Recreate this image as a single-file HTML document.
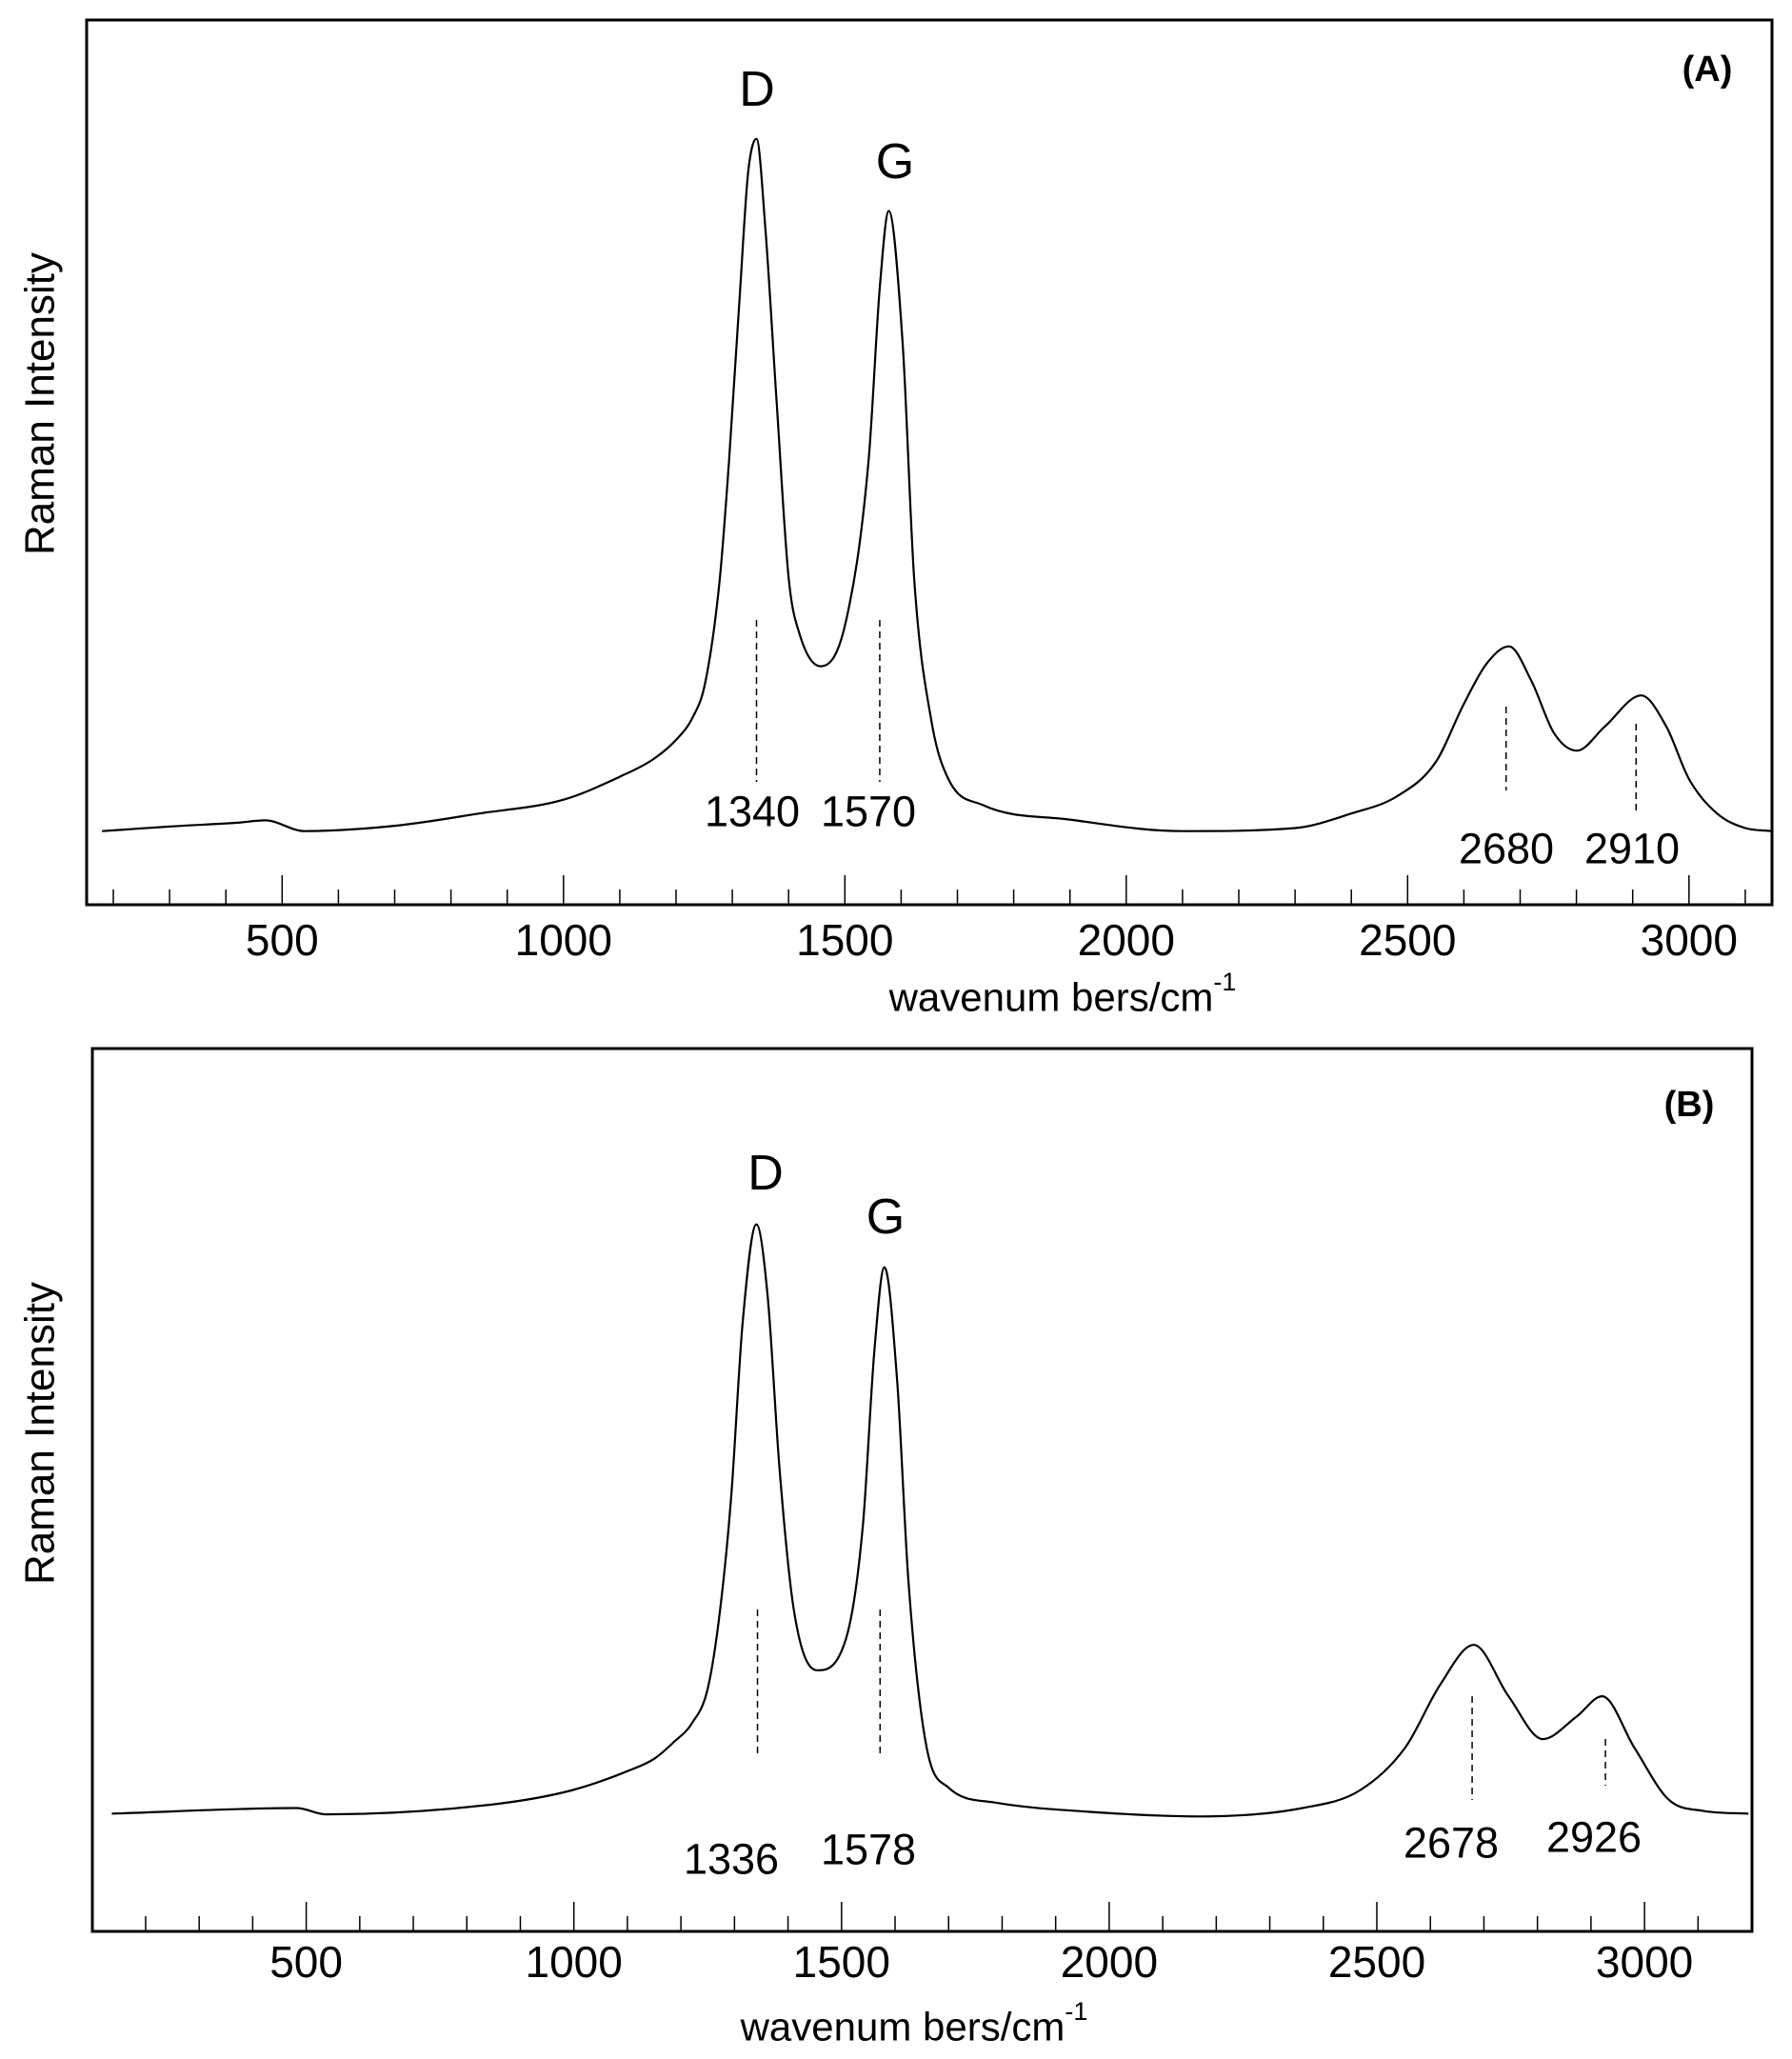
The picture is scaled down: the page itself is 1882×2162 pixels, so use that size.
<!DOCTYPE html>
<html><head><meta charset="utf-8"><style>
html,body{margin:0;padding:0;background:#fff}
svg{display:block}
text{font-family:"Liberation Sans",Arial,sans-serif;fill:#000}
</style></head><body>
<svg id="chart" width="1882" height="2162" viewBox="0 0 1882 2162" xmlns="http://www.w3.org/2000/svg"></svg>
<script>
// ---- Panel A data ----
const wnA = [180,300,420,470,540,700,850,1000,1100,1160,1200,1230,1252,1278,1294,1314,1328,1343,1359,1379,1400,1420,1457,1501,1542,1562,1578,1603,1623,1654,1684,1745,1900,2100,2300,2400,2480,2550,2600,2640,2680,2720,2760,2801,2850,2915,2960,3000,3050,3100,3147];
const intA = [9.6,10.2,10.7,11.0,9.6,10.3,11.9,13.7,16.7,19.0,21.5,24.5,29.0,42.7,57.8,80.4,95.4,99.9,87.9,65.3,42.7,35.2,31.1,36.7,57.8,80.4,90.5,72.8,42.7,23.9,16.4,13.0,11.1,9.6,10.0,11.9,14.1,18.6,26.2,31.4,33.7,29.2,22.4,20.1,23.2,27.3,23.2,16.4,11.9,10.0,9.6];
const peakWnA = [1343,1562,2675,2906];
const peakLabelsA = ["1340","1570","2680","2910"];
// ---- Panel B data ----
const wnB = [137,483,536,857,995,1102,1150,1187,1220,1250,1273,1294,1315,1341,1362,1384,1411,1454,1508,1540,1561,1580,1604,1625,1657,1700,1785,1956,2169,2361,2468,2553,2618,2681,2746,2810,2873,2921,2981,3045,3109,3194];
const intB = [16.2,17.0,16.1,17.6,19.5,22.3,24.0,26.4,29.0,34.0,45.1,61.4,85.8,100,89.8,65.4,45.1,36.6,41.0,57.3,81.7,93.9,77.6,49.2,26.4,19.9,17.8,16.5,15.8,17.0,19.5,25.6,34.5,40.2,32.9,26.8,30.0,32.9,25.6,18.2,16.6,16.2];
const peakWnB = [1343,1572,2678,2927];
const peakLabelsB = ["1336","1578","2678","2926"];
// ---- tick labels ----
const majorTicks = [500,1000,1500,2000,2500,3000];
const minorTicks = [200,300,400,600,700,800,900,1100,1200,1300,1400,1600,1700,1800,1900,2100,2200,2300,2400,2600,2700,2800,2900,3100];

const NS="http://www.w3.org/2000/svg";
const svg=document.getElementById('chart');
function mk(tag,attrs,parent){const e=document.createElementNS(NS,tag);for(const k in attrs)e.setAttribute(k,attrs[k]);(parent||svg).appendChild(e);return e;}

function monotonePath(xs,ys){
  const n=xs.length;const d=[],m=[];
  for(let i=0;i<n-1;i++)d.push((ys[i+1]-ys[i])/(xs[i+1]-xs[i]));
  m[0]=d[0];m[n-1]=d[n-2];
  for(let i=1;i<n-1;i++){m[i]=(d[i-1]*d[i]<=0)?0:(d[i-1]+d[i])/2;}
  for(let i=0;i<n-1;i++){if(d[i]===0){m[i]=0;m[i+1]=0;continue;}const a=m[i]/d[i],b=m[i+1]/d[i];const s=a*a+b*b;if(s>9){const t=3/Math.sqrt(s);m[i]=t*a*d[i];m[i+1]=t*b*d[i];}}
  let p="M"+xs[0].toFixed(1)+","+ys[0].toFixed(1);
  for(let i=0;i<n-1;i++){const h=(xs[i+1]-xs[i])/3;
    p+=" C"+(xs[i]+h).toFixed(1)+","+(ys[i]+m[i]*h).toFixed(1)+" "+(xs[i+1]-h).toFixed(1)+","+(ys[i+1]-m[i+1]*h).toFixed(1)+" "+xs[i+1].toFixed(1)+","+ys[i+1].toFixed(1);}
  return p;
}

function panel(cfg){
  const g=mk('g',{});
  
  
  const X=v=>cfg.x0+cfg.k*v;
  const Y=v=>cfg.bottom-(cfg.bottom-cfg.top)*(v-cfg.ymin)/(cfg.ymax-cfg.ymin);
  const frame=mk('rect',{x:cfg.left,y:cfg.top,width:cfg.right-cfg.left,height:cfg.bottom-cfg.top,fill:'none',stroke:'#000','stroke-width':3},g);
  
  
  majorTicks.forEach(t=>{
    const l=mk('line',{x1:X(t),x2:X(t),y1:cfg.bottom,y2:cfg.bottom-31,stroke:'#000','stroke-width':1.5},g);
    
    
    const tx=mk('text',{x:X(t),y:cfg.tickY,'font-size':46,'text-anchor':'middle','dominant-baseline':'central'},g);
    
    
    tx.textContent=t;
  });
  minorTicks.forEach(t=>{
    const l=mk('line',{x1:X(t),x2:X(t),y1:cfg.bottom,y2:cfg.bottom-16,stroke:'#000','stroke-width':1.5},g);
    
    
  });
  const xs=cfg.wn.map(X),ys=cfg.int.map(Y);
  const path=mk('path',{d:monotonePath(xs,ys),fill:'none',stroke:'#000','stroke-width':2.2,'stroke-linejoin':'round'},g);
  
  
  cfg.peaks.forEach((p,i)=>{
    const l=mk('line',{x1:X(p),x2:X(p),y1:cfg.dash[i][0],y2:cfg.dash[i][1],stroke:'#000','stroke-width':1.5,'stroke-dasharray':'7,5'},g);
    
    
    const t=mk('text',{x:cfg.lab[i][0],y:cfg.lab[i][1],'font-size':45,'text-anchor':'middle','dominant-baseline':'central'},g);
    
    
    t.textContent=cfg.labels[i];
  });
  const D=mk('text',{x:cfg.D[0],y:cfg.D[1],'font-size':52,'text-anchor':'middle','dominant-baseline':'central'},g);
  
  
  D.textContent='D';
  const G=mk('text',{x:cfg.G[0],y:cfg.G[1],'font-size':52,'text-anchor':'middle','dominant-baseline':'central'},g);
  
  
  G.textContent='G';
  const P=mk('text',{x:cfg.P[0],y:cfg.P[1],'font-size':38,'font-weight':'bold','text-anchor':'middle','dominant-baseline':'central'},g);
  
  
  P.textContent=cfg.panelLabel;
  const xt=mk('text',{x:cfg.xt[0],y:cfg.xt[1],'font-size':42,'text-anchor':'middle','dominant-baseline':'central'},g);
  
  
  xt.innerHTML='wavenum bers/cm<tspan font-size="27" dy="-16">-1</tspan>';
  const yt=mk('text',{x:cfg.yt[0],y:cfg.yt[1],'font-size':44,'text-anchor':'middle','dominant-baseline':'central',transform:'rotate(-90 '+cfg.yt[0]+' '+cfg.yt[1]+')'},g);
  
  
  yt.textContent='Raman Intensity';
}

panel({name:'panel-a',left:91,right:1861,top:21,bottom:950,x0:0.8,k:0.591,ymin:0,ymax:115.4,tickY:987,
  wn:wnA,int:intA,peaks:peakWnA,labels:peakLabelsA,
  dash:[[651,821],[651,821],[742,830],[760,855]],
  lab:[[790,852],[912,852],[1582,891],[1714,891]],
  D:[795,94],G:[940,170],P:[1793,73],panelLabel:'(A)',xt:[1116,1047],yt:[42,424]});
panel({name:'panel-b',left:97,right:1840,top:1101,bottom:2028,x0:40.5,k:0.5622,ymin:-0.54,ymax:125,tickY:2060,
  wn:wnB,int:intB,peaks:peakWnB,labels:peakLabelsB,
  dash:[[1690,1842],[1690,1842],[1781,1890],[1826,1875]],
  lab:[[768,1952],[912,1942],[1524,1935],[1674,1929]],
  D:[804,1232],G:[930,1278],P:[1774,1160],panelLabel:'(B)',xt:[960,2128],yt:[42,1505]});
</script>
</body></html>
